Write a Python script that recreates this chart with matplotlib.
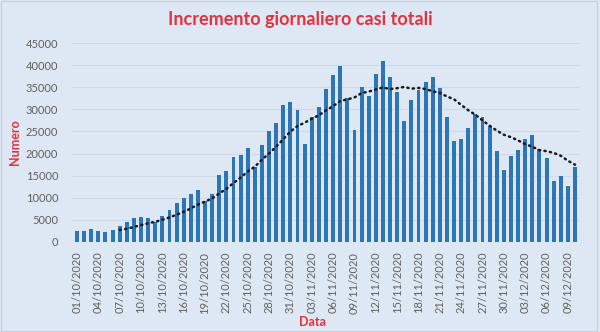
import matplotlib.pyplot as plt
import matplotlib.patches as mpatches
import pandas as pd

plt.rcParams['font.family'] = ['Lato', 'DejaVu Sans']

# nuovi casi giornalieri, 01/10/2020 - 10/12/2020
dates = pd.date_range('2020-10-01', '2020-12-10', freq='D')
casi = [
    2548, 2499, 2844, 2578, 2257, 2677, 3678, 4458, 5372, 5724,
    5456, 4619, 5901, 7332, 8804, 10010, 10925, 11705, 9338, 10874,
    15199, 16079, 19143, 19644, 21273, 17012, 21994, 24991, 26831, 31084,
    31758, 29907, 22253, 28244, 30550, 34505, 37809, 39811, 32616, 25271,
    35098, 32961, 37978, 40902, 37255, 33979, 27354, 32191, 34283, 36176,
    37242, 34767, 28337, 22930, 23232, 25853, 29003, 28352, 26323, 20648,
    16377, 19350, 20709, 23225, 24099, 21052, 18887, 13720, 14842, 12756,
    16999,
]
labels = [d.strftime('%d/%m/%Y') for d in dates]

bg = '#dee8f4'
red = '#e2323f'
grey = '#606060'

fig = plt.figure(figsize=(6, 3.32), dpi=100, facecolor=bg)
ax = fig.add_axes([72/600, 1-242/332, 508/600, 199/332])
ax.set_facecolor(bg)

x = range(len(casi))
ax.bar(x, casi, width=0.55, color='#2e75b6', zorder=2)

# media mobile a 7 giorni
media = pd.Series(casi).rolling(7).mean()
ax.plot(x, media, color='#1a1a1a', lw=1.8, ls=(0, (0.5, 1.7)),
        dash_capstyle='round', zorder=3)

ax.set_xlim(-0.7, len(casi) - 0.3)
ax.set_ylim(0, 45000)
ax.set_yticks(range(0, 45001, 5000))
ax.set_xticks(list(x)[::3])
ax.set_xticklabels(labels[::3], rotation=90)
ax.tick_params(axis='both', length=0, colors=grey, labelsize=8)
ax.tick_params(axis='x', pad=7)
ax.tick_params(axis='y', pad=10)
ax.grid(axis='y', color='#d0d9e5', lw=0.8, zorder=0)
for s in ax.spines.values():
    s.set_visible(False)

fig.text(0.5, 1-20/332, 'Incremento giornaliero casi totali', color=red,
         fontsize=13, fontweight='bold', ha='center', va='center')
fig.text(15/600, 1-142/332, 'Numero', color=red, fontsize=9,
         fontweight='bold', rotation=90, ha='center', va='center')
fig.text(313/600, 1-322/332, 'Data', color=red, fontsize=9,
         fontweight='bold', ha='center', va='center')

# cornice del grafico
fig.patches.append(mpatches.Rectangle((0.002, 0.003), 0.993, 0.994,
                                      transform=fig.transFigure, fill=False,
                                      edgecolor='#c9d1db', lw=1))

fig.savefig('out.png', dpi=100, facecolor=bg)
